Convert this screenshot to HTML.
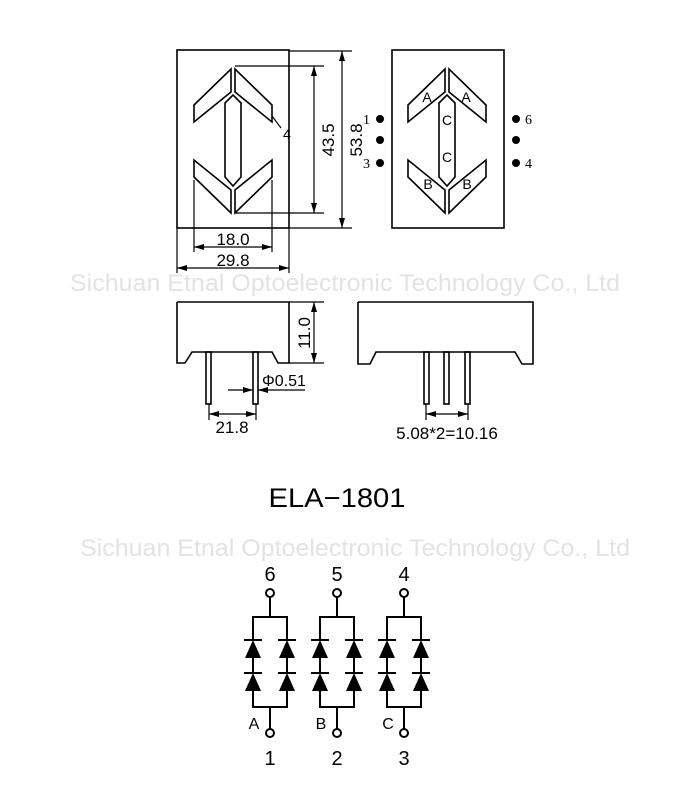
<!DOCTYPE html>
<html><head><meta charset="utf-8"><style>
html,body{margin:0;padding:0;background:#fff}
svg{display:block}
text{font-family:"Liberation Sans",sans-serif;fill:#000}
</style></head><body>
<svg width="700" height="800" viewBox="0 0 700 800" xmlns="http://www.w3.org/2000/svg">
<defs>
<marker id="ar" markerWidth="10" markerHeight="6" refX="10" refY="3" orient="auto-start-reverse" markerUnits="userSpaceOnUse"><path d="M0,0 L10,3 L0,6 Z" fill="#000"/></marker>
<g id="seg" fill="none" stroke="#000" stroke-width="1.6">
<polygon points="231,69 231,92 194,122 194,105"/>
<polygon points="235,69 235,92 272,122 272,105"/>
<polygon points="231,213 231,190 194,160 194,177"/>
<polygon points="235,213 235,190 272,160 272,177"/>
<polygon points="233,95 241,103 241,177 233,186 225,177 225,103"/>
</g>
</defs>
<g fill="none" stroke="#000" stroke-width="1.6">
<rect x="177" y="50" width="112" height="178"/>
<rect x="392" y="50" width="112" height="178"/>
</g>
<use href="#seg"/>
<use href="#seg" x="214"/>
<!-- dims top -->
<g stroke="#000" stroke-width="1.2" fill="none">
<line x1="289" y1="51" x2="352" y2="51"/><line x1="289" y1="228" x2="352" y2="228"/>
<line x1="342" y1="51" x2="342" y2="228" marker-start="url(#ar)" marker-end="url(#ar)"/>
<line x1="235" y1="66" x2="324" y2="66"/><line x1="235" y1="213" x2="324" y2="213"/>
<line x1="314" y1="66" x2="314" y2="213" marker-start="url(#ar)" marker-end="url(#ar)"/>
<line x1="194" y1="180" x2="194" y2="252"/><line x1="272" y1="180" x2="272" y2="252"/>
<line x1="194" y1="247" x2="272" y2="247" marker-start="url(#ar)" marker-end="url(#ar)"/>
<line x1="177" y1="228" x2="177" y2="273"/><line x1="289" y1="228" x2="289" y2="273"/>
<line x1="177" y1="268" x2="289" y2="268" marker-start="url(#ar)" marker-end="url(#ar)"/>
<line x1="272" y1="116" x2="281" y2="128"/>
</g>
<text x="0" y="0" font-size="17" transform="translate(362,140) rotate(-90)" text-anchor="middle">53.8</text>
<text x="0" y="0" font-size="17" transform="translate(334,140) rotate(-90)" text-anchor="middle">43.5</text>
<text x="283" y="139" font-size="14">4</text>
<text x="233" y="245" font-size="17" text-anchor="middle">18.0</text>
<text x="233" y="266" font-size="17" text-anchor="middle">29.8</text>
<!-- right view labels -->
<g font-size="14">
<text x="427" y="102" text-anchor="middle">A</text><text x="466" y="102" text-anchor="middle">A</text>
<text x="447" y="125" text-anchor="middle">C</text><text x="447" y="162" text-anchor="middle">C</text>
<text x="428" y="189" text-anchor="middle">B</text><text x="467" y="189" text-anchor="middle">B</text>
</g>
<g fill="#000">
<circle cx="380" cy="119" r="4"/><circle cx="380" cy="140" r="4"/><circle cx="380" cy="163" r="4"/>
<circle cx="516" cy="119" r="4"/><circle cx="516" cy="140" r="4"/><circle cx="516" cy="163" r="4"/>
</g>
<g style="font-family:'Liberation Serif',serif" font-size="14">
<text x="363" y="124" style="font-family:'Liberation Serif',serif">1</text>
<text x="363" y="168" style="font-family:'Liberation Serif',serif">3</text>
<text x="525" y="124" style="font-family:'Liberation Serif',serif">6</text>
<text x="525" y="168" style="font-family:'Liberation Serif',serif">4</text>
</g>
<text x="70" y="291" font-size="24" fill="#e3e3e3" style="fill:#e3e3e3" textLength="550" lengthAdjust="spacingAndGlyphs">Sichuan Etnal Optoelectronic Technology Co., Ltd</text>
<!-- side views -->
<g fill="none" stroke="#000" stroke-width="1.6">
<polyline points="177,302 289,302 289,363 278,363 272,352 192,352 185,363 177,363 177,302"/>
<rect x="206" y="352" width="5" height="52"/><rect x="253" y="352" width="5" height="52"/>
<polyline points="358,302 533,302 533,364 522,364 515,352 376,352 370,364 358,364 358,302"/>
<rect x="424" y="352" width="5" height="52"/><rect x="444" y="352" width="5" height="52"/><rect x="465" y="352" width="5" height="52"/>
</g>
<g stroke="#000" stroke-width="1.2" fill="none">
<line x1="289" y1="302" x2="324" y2="302"/><line x1="289" y1="363" x2="324" y2="363"/>
<line x1="314" y1="302" x2="314" y2="363" marker-start="url(#ar)" marker-end="url(#ar)"/>
<line x1="228" y1="390" x2="253" y2="390" marker-end="url(#ar)"/>
<line x1="305" y1="390" x2="258" y2="390" marker-end="url(#ar)"/>
<line x1="209" y1="404" x2="209" y2="420"/><line x1="256" y1="404" x2="256" y2="420"/>
<line x1="209" y1="414" x2="256" y2="414" marker-start="url(#ar)" marker-end="url(#ar)"/>
<line x1="426" y1="404" x2="426" y2="420"/><line x1="468" y1="404" x2="468" y2="420"/>
<line x1="426" y1="414" x2="468" y2="414" marker-start="url(#ar)" marker-end="url(#ar)"/>
</g>
<text x="0" y="0" font-size="17" transform="translate(310,333) rotate(-90)" text-anchor="middle">11.0</text>
<text x="262" y="386" font-size="16">Φ0.51</text>
<text x="232" y="433" font-size="17" text-anchor="middle">21.8</text>
<text x="447" y="439" font-size="17" text-anchor="middle">5.08*2=10.16</text>
<text x="337" y="507" font-size="27" text-anchor="middle" textLength="137" lengthAdjust="spacingAndGlyphs">ELA−1801</text>
<text x="80" y="556" font-size="24" fill="#e3e3e3" style="fill:#e3e3e3" textLength="550" lengthAdjust="spacingAndGlyphs">Sichuan Etnal Optoelectronic Technology Co., Ltd</text>
<!-- schematic -->
<g id="grp">
<g fill="none" stroke="#000" stroke-width="2">
<circle cx="270" cy="593" r="4"/>
<line x1="270" y1="597" x2="270" y2="617"/>
<polyline points="253,640 253,617 287,617 287,640"/>
<line x1="253" y1="658" x2="253" y2="673"/><line x1="287" y1="658" x2="287" y2="673"/>
<polyline points="253,690 253,707 287,707 287,690"/>
<line x1="270" y1="707" x2="270" y2="729"/>
<circle cx="270" cy="733" r="4"/>
<line x1="244" y1="640" x2="262" y2="640"/><line x1="278" y1="640" x2="296" y2="640"/>
<line x1="244" y1="673" x2="262" y2="673"/><line x1="278" y1="673" x2="296" y2="673"/>
</g>
<g fill="#000">
<polygon points="253,640 245,658 261,658"/><polygon points="287,640 279,658 295,658"/>
<polygon points="253,673 245,691 261,691"/><polygon points="287,673 279,691 295,691"/>
</g>
</g>
<use href="#grp" x="67"/>
<use href="#grp" x="134"/>
<g font-size="20" text-anchor="middle">
<text x="270" y="581">6</text><text x="337" y="581">5</text><text x="404" y="581">4</text>
<text x="270" y="765">1</text><text x="337" y="765">2</text><text x="404" y="765">3</text>
</g>
<g font-size="16" text-anchor="middle">
<text x="254" y="729">A</text><text x="321" y="729">B</text><text x="388" y="729">C</text>
</g>
</svg>
</body></html>
